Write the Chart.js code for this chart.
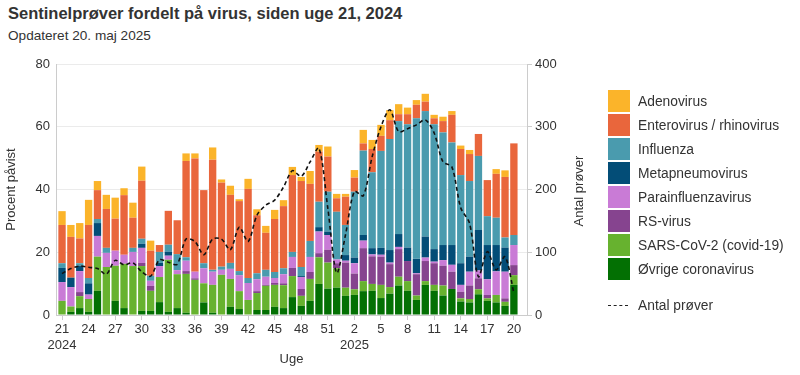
<!DOCTYPE html>
<html lang="da">
<head>
<meta charset="utf-8">
<script src="https://cdn.jsdelivr.net/npm/chart.js@4.4.1/dist/chart.umd.min.js"></script>
<style>
  body { margin: 0; background: #fff; font-family: "Liberation Sans", Arial, sans-serif; color: #333; }
  #wrap { position: relative; width: 800px; height: 375px; overflow: hidden; }
  #chart { position: absolute; left: 0; top: 0; }
  h1 { position: absolute; left: 8px; top: 4px; margin: 0; font-size: 16.5px; font-weight: bold; color: #333; }
  .sub { position: absolute; left: 8px; top: 28px; font-size: 13.6px; color: #333; }
  .rtitle { position: absolute; left: 578px; top: 191px; transform: translate(-50%, -50%) rotate(-90deg);
            font-size: 13px; color: #333; white-space: nowrap; }
  #legend { position: absolute; left: 608px; top: 89px; font-size: 13.8px; color: #333; }
  .row { height: 24px; display: flex; align-items: center; white-space: nowrap; }
  .box { width: 22px; height: 22px; margin-right: 8px; }
  .dash { width: 20px; height: 0; border-top: 1.5px dashed #222; margin-right: 10px; }
</style>
</head>
<body>
<div id="wrap">
  <h1>Sentinelprøver fordelt på virus, siden uge 21, 2024</h1>
  <div class="sub">Opdateret 20. maj 2025</div>
  <canvas id="chart" width="800" height="375"></canvas>
  <div class="rtitle">Antal prøver</div>
  <div id="legend"></div>
</div>
<script>
// uger: 21-52 (2024) og 1-20 (2025)
const weeks = ['21','22','23','24','25','26','27','28','29','30','31','32','33','34','35','36',
  '37','38','39','40','41','42','43','44','45','46','47','48','49','50','51','52',
  '1','2','3','4','5','6','7','8','9','10','11','12','13','14','15','16','17','18','19','20'];

// procent påvist pr. virus
const ovrige = [0,1,2.2,1,7.7,0,4.5,2.2,0,1.3,1.3,4.1,1,2.2,0.7,0,4,0.7,0,2.6,1.9,0,1.6,1.6,2.6,2.2,5.7,2.9,4.5,9.9,8.4,8.7,
  6.1,6.4,7.6,7.7,5.4,6.8,9.4,7.7,4.8,9.6,7.7,6.2,8.3,4.3,4,6.6,4.5,4,2.9,9.6];
const sars = [4.5,1.7,3.8,4.1,10.9,15.3,11.2,14.1,15.6,14.3,6.4,8,16.6,10.8,12.4,11.2,6.1,8.9,12.8,8.9,5.7,4.8,5.4,7.7,7,7.3,6.7,3.2,7,8.5,8.3,6.2,
  2.6,1.8,3.2,2.2,4.2,2.1,2.8,3.1,1.4,1.2,1.9,3.2,0,1,1.1,1.6,0.8,2.4,1.3,3.1];
const rsv = [0,0,1.3,0,0,0,0,0,0,1,1.6,0,0,0,0.9,0.5,0,0,0,0,0,0,0.6,0.3,0.6,0.6,2.6,2.2,2.2,1.3,4.1,1.6,
  8,5,10.5,8.8,9,7.3,8.8,6.4,6.8,6.4,6.9,6.3,5.5,2.1,4.3,3.5,1.1,0,1.1,3.2];
const para = [6,6.2,6.7,1.4,6.6,4.5,4.8,2.9,4.5,4.8,1.6,3.5,1.3,1.3,3.3,2.1,4.8,4.2,1.6,3.2,5.1,5.4,3.8,2.6,1.6,2.9,3.5,3.8,4.8,6.9,4.7,1.2,
  0.6,3.3,2.4,0.6,0.6,0.5,0.7,0,0.3,1.1,0.5,1.8,2.2,2.2,4.4,2.5,5,7.5,8.5,6.4];
const meta = [4.5,3,1.7,3.6,4.1,0,0,0,0,1.3,0,1,1.3,0,0,0,0,0,0,0,0,0,0,0,0,0,0,0.3,0,1.4,1.1,0,
  1.8,1.8,1.8,2,2.2,4,4.1,4.3,4.6,6.7,4,4.8,6.3,6.9,4.8,12.9,10.9,8.4,7.7,0];
const influenza = [1.5,0,0.8,1.7,1.3,1.6,0,0,1.3,1.6,1.6,3.5,2.2,5.1,1.1,0,1.6,0.6,1,1.9,1.3,1.6,1.9,2.2,1.9,1.9,1.6,2.9,5.1,8.1,12.7,15.2,
  9.6,21,26.9,24.2,30.9,35.4,36,39.3,44.8,40,39.8,35.9,32.7,28.1,24.1,23.6,9.2,8.7,3.2,3.2];
const entero = [12.2,13,7.9,16.9,9.2,12.4,10.2,19,9.6,18.5,8,2.2,10.8,10.8,30.7,36.1,23.3,35.1,26.8,21.7,22.3,28.4,18.5,11.8,16.9,19.8,24.5,27.4,18.2,16,11.2,4.3,
  9,4.5,2.3,7.4,4.8,6,2.2,3.2,4.3,3,1.9,3.6,8.8,8.3,8.6,7,11.5,14,19.3,29.2];
const adeno = [4.4,3.8,4.9,8,2.9,4.5,6.7,2.2,4.8,4.5,3.2,0,0,0,2.4,1.6,0,3.9,1,2.9,0.6,3.2,1.9,2.2,2.9,1.9,2.6,1.3,4.1,2.1,3.2,1.4,
  0.9,2.4,4.3,2.9,3.5,3.2,3.2,2.1,1.5,2.5,1.1,1.4,1.2,1.1,1.3,0,0,1.5,2.1,0];

// antal prøver (højre akse)
const antal = [66,74,78,76,74,65,87,80,83,69,62,88,84,81,121,117,96,121,121,104,140,117,159,175,183,204,230,221,244,266,170,67,
  128,197,190,252,300,327,292,297,303,311,290,244,236,171,146,61,101,72,93,35];

const series = [
  { label: 'Øvrige coronavirus', data: ovrige, color: '#037003' },
  { label: 'SARS-CoV-2 (covid-19)', data: sars, color: '#67b22f' },
  { label: 'RS-virus', data: rsv, color: '#86448f' },
  { label: 'Parainfluenzavirus', data: para, color: '#c97bd6' },
  { label: 'Metapneumovirus', data: meta, color: '#034d77' },
  { label: 'Influenza', data: influenza, color: '#4a9bae' },
  { label: 'Enterovirus / rhinovirus', data: entero, color: '#e9663c' },
  { label: 'Adenovirus', data: adeno, color: '#fbb42a' },
];

const font = { family: '"Liberation Sans", Arial, sans-serif', size: 13 };
const grey = '#cccccc';

const datasets = series.map(s => ({
  type: 'bar',
  label: s.label,
  data: s.data,
  backgroundColor: s.color,
  borderWidth: 0,
  stack: 'virus',
  yAxisID: 'y',
  categoryPercentage: 1,
  barPercentage: 0.83,
  order: 1,
}));

datasets.push({
  type: 'line',
  label: 'Antal prøver',
  data: antal,
  yAxisID: 'y1',
  borderColor: '#111',
  borderWidth: 1.6,
  borderDash: [4, 3],
  pointRadius: 0,
  tension: 0.3,
  fill: false,
  order: 0,
});

new Chart(document.getElementById('chart'), {
  data: { labels: weeks, datasets },
  options: {
    responsive: false,
    animation: false,
    layout: { padding: { top: 64, right: 210, left: 0, bottom: 0 } },
    plugins: { legend: { display: false }, tooltip: { enabled: false } },
    scales: {
      x: {
        stacked: true,
        offset: true,
        afterBuildTicks: s => { s._startValue = -0.68; s._valueRange = 53.16; },
        afterFit: s => { s.height = 60; },
        grid: {
          drawOnChartArea: false,
          offset: false,
          tickLength: 5,
          tickColor: c => (c.index % 3 === 0 ? grey : 'rgba(0,0,0,0)'),
        },
        border: { color: grey },
        ticks: {
          autoSkip: false,
          maxRotation: 0,
          padding: 2,
          color: '#333',
          font,
          callback: function (v, i) {
            if (i % 3 !== 0) return '';
            const w = this.getLabelForValue(v);
            if (i === 0) return [w, '2024'];
            if (i === 33) return [w, '2025'];
            return w;
          },
        },
        title: { display: true, text: 'Uge', color: '#333', font, padding: { top: 0, bottom: 8 } },
      },
      y: {
        stacked: true,
        min: 0,
        max: 80,
        afterFit: s => { s.width = 56; },
        ticks: { stepSize: 20, padding: 6, color: '#333', font },
        grid: { color: '#ebebeb', drawTicks: false },
        border: { color: grey },
        title: { display: true, text: 'Procent påvist', color: '#333', font, padding: { top: 4, bottom: 4 } },
      },
      y1: {
        position: 'right',
        min: 0,
        max: 400,
        afterFit: s => { s.width = 63; },
        ticks: { stepSize: 100, padding: 3, color: '#333', font },
        grid: { drawOnChartArea: false, tickLength: 5, tickColor: grey },
        border: { color: grey },
      },
    },
  },
});

// legende
const legend = document.getElementById('legend');
series.slice().reverse().forEach(s => {
  const row = document.createElement('div');
  row.className = 'row';
  row.innerHTML = '<div class="box" style="background:' + s.color + '"></div><span>' + s.label + '</span>';
  legend.appendChild(row);
});
const gap = document.createElement('div');
gap.style.height = '12px';
legend.appendChild(gap);
const lineRow = document.createElement('div');
lineRow.className = 'row';
lineRow.innerHTML = '<div class="dash"></div><span>Antal prøver</span>';
legend.appendChild(lineRow);
</script>
</body>
</html>
